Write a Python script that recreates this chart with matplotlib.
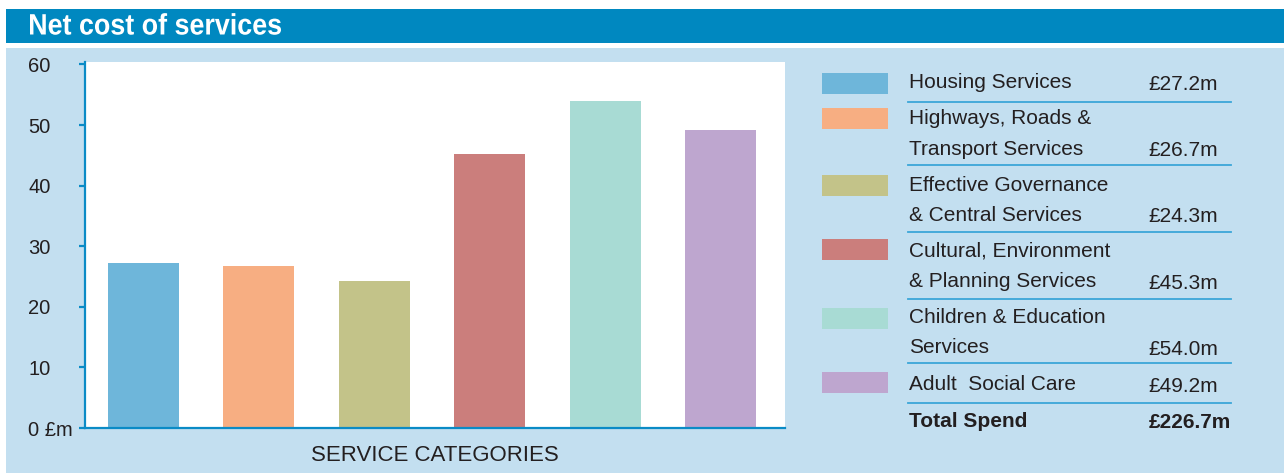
import matplotlib
matplotlib.use("Agg")
import matplotlib.pyplot as plt
from matplotlib import font_manager
from matplotlib.font_manager import FontProperties
from matplotlib.patches import Rectangle, PathPatch
from matplotlib.lines import Line2D
from matplotlib.textpath import TextPath
from matplotlib.transforms import Affine2D

# Data
services = ["Housing Services", "Highways, Roads &\nTransport Services",
            "Effective Governance\n& Central Services",
            "Cultural, Environment\n& Planning Services",
            "Children & Education\nServices", "Adult  Social Care"]
spend = [27.2, 26.7, 24.3, 45.3, 54.0, 49.2]
colors = ["#6eb6da", "#f7ae82", "#c3c389", "#cb7e7c", "#a8dbd4", "#bea6cf"]
y_ticks = [0, 10, 20, 30, 40, 50, 60]
y_tick_labels = ["0 £m", "10", "20", "30", "40", "50", "60"]
x_title = "SERVICE CATEGORIES"
title = "Net cost of services"
total_label = "Total Spend"

W, H = 1284, 473
BLUE = "#0088c0"
PANEL = "#c3dff0"
INK = "#231f20"
SEP = "#3ba6d8"

names = {f.name for f in font_manager.fontManager.ttflist}
BODY = "Liberation Sans" if "Liberation Sans" in names else "DejaVu Sans"
plt.rcParams["font.family"] = BODY


def fx(x):
    return x / W


def fy(y):
    return 1 - y / H


fig = plt.figure(figsize=(W / 100, H / 100), dpi=100)
fig.patch.set_facecolor("white")

# Title bar and light panel (behind the axes)
fig.add_artist(Rectangle((fx(6), fy(43)), fx(W) - fx(6), fy(9) - fy(43),
                         transform=fig.transFigure, color=BLUE, lw=0,
                         zorder=-2))
fig.add_artist(Rectangle((fx(6), 0), fx(W) - fx(6), fy(48),
                         transform=fig.transFigure, color=PANEL, lw=0,
                         zorder=-2))

# Condensed bold title drawn as a horizontally squeezed text path
tp = TextPath((0, 0), title, size=29.5,
              prop=FontProperties(family=BODY, weight="bold"))
ext = tp.get_extents()
sx = 251 / ext.width
title_tf = Affine2D().translate(-ext.x0, 0).scale(sx, 1).translate(30, H - 34.5)
fig.add_artist(PathPatch(tp, transform=title_tf, color="white", lw=0,
                         zorder=5))

# Bar chart
ax = fig.add_axes([fx(85), fy(428), fx(785) - fx(85), fy(62) - fy(428)])
ax.set_facecolor("white")
xs = list(range(len(spend)))
ax.bar(xs, spend, width=0.615, color=colors, linewidth=0, zorder=2)
ax.set_xlim(-0.507, len(spend) - 1 + 0.559)
ax.set_ylim(0, 60.4)
for side in ("top", "right"):
    ax.spines[side].set_visible(False)
for side in ("left", "bottom"):
    ax.spines[side].set_color("#0a8bc6")
    ax.spines[side].set_linewidth(1.6)
    ax.spines[side].set_zorder(3)
ax.set_xticks([])
ax.set_yticks(y_ticks)
ax.set_yticklabels(y_tick_labels)
ax.tick_params(axis="y", length=4, width=1.6, color="#0a8bc6",
               labelsize=14.5, labelcolor=INK, pad=37)
for lab in ax.get_yticklabels():
    lab.set_ha("left")
    lab.set_va("center_baseline")
ax.set_xlabel(x_title, fontsize=16, color=INK, labelpad=12)

# Legend table
swatch_tops = [73, 108, 175, 239, 308, 372]
name_baselines = [88, 124.5, 191, 256.7, 323.3, 390]
value_baselines = [90, 156, 221.7, 289.3, 355, 391.7]
separators = [101.7, 165.3, 232.3, 298.7, 362.7, 402.7]
line_gap = 30
for i, (name, val, col) in enumerate(zip(services, spend, colors)):
    fig.add_artist(Rectangle((fx(822), fy(swatch_tops[i] + 21)),
                             fx(888) - fx(822), fy(0) - fy(21),
                             transform=fig.transFigure, color=col, lw=0))
    for j, line in enumerate(name.split("\n")):
        fig.text(fx(909), fy(name_baselines[i] + j * line_gap), line,
                 fontsize=15, color=INK, va="baseline", ha="left")
    fig.text(fx(1218), fy(value_baselines[i]), f"£{val:.1f}m",
             fontsize=15, color=INK, va="baseline", ha="right")
for y in separators:
    fig.add_artist(Line2D([fx(908), fx(1231)], [fy(y), fy(y)],
                          transform=fig.transFigure, color=SEP, lw=1.3))
fig.text(fx(909), fy(426.7), total_label, fontsize=15, fontweight="bold",
         color=INK, va="baseline", ha="left")
fig.text(fx(1231), fy(428.3), f"£{sum(spend):.1f}m", fontsize=15,
         fontweight="bold", color=INK, va="baseline", ha="right")

fig.savefig("out.png", dpi=100, facecolor=fig.get_facecolor())
